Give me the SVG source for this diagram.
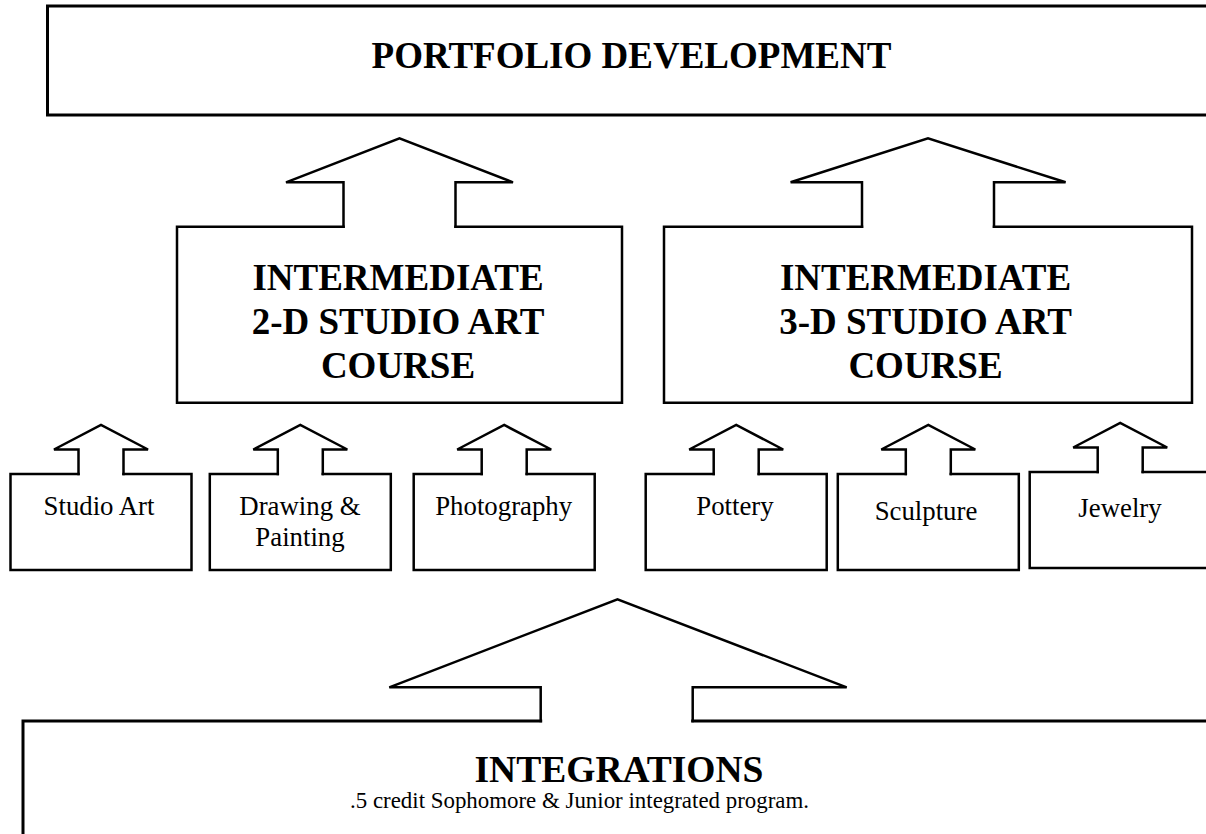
<svg xmlns="http://www.w3.org/2000/svg" width="1206" height="834" viewBox="0 0 1206 834">
  <style>
    .box { fill: none; stroke: #000; stroke-width: 2.5; stroke-linecap: square; stroke-linejoin: miter; }
    .wide { stroke-width: 3; }
    .arrow { fill: none; stroke: #000; stroke-width: 2.5; stroke-linecap: square; stroke-linejoin: miter; }
    .head { font-family: "Liberation Serif", "Times New Roman", serif; font-weight: bold; fill: #000; text-anchor: middle; }
    .big { font-size: 37px; }
    .label { font-family: "Liberation Serif", "Times New Roman", serif; font-size: 26.8px; fill: #000; text-anchor: middle; }
    .note { font-family: "Liberation Serif", "Times New Roman", serif; font-size: 22.9px; fill: #000; }
  </style>
  <rect width="1206" height="834" fill="#fff"/>

  <!-- top level -->
  <g id="portfolio">
    <rect class="box wide" x="47.5" y="6" width="1200" height="109"/>
    <text class="head big" x="631.5" y="68">PORTFOLIO DEVELOPMENT</text>
  </g>

  <!-- intermediate courses -->
  <g id="intermediate-2d">
    <path class="box" d="M343.5,226.7 H177 V402.7 H622 V226.7 H455.5"/>
    <text class="head big" x="398" y="290">INTERMEDIATE</text>
    <text class="head big" x="398" y="334">2-D STUDIO ART</text>
    <text class="head big" x="398" y="378">COURSE</text>
  </g>
  <g id="intermediate-3d">
    <path class="box" d="M862,226.7 H664 V402.7 H1192 V226.7 H994"/>
    <text class="head big" x="925.5" y="290">INTERMEDIATE</text>
    <text class="head big" x="925.5" y="334">3-D STUDIO ART</text>
    <text class="head big" x="925.5" y="378">COURSE</text>
  </g>

  <!-- elective courses -->
  <g id="studio-art">
    <path class="box" d="M78.5,474 H10.5 V570 H191.5 V474 H123.5"/>
    <text class="label" x="99" y="515">Studio Art</text>
  </g>
  <g id="drawing-painting">
    <path class="box" d="M277.8,474 H209.8 V570 H390.8 V474 H322.8"/>
    <text class="label" x="300" y="515">Drawing &amp;</text>
    <text class="label" x="300" y="546">Painting</text>
  </g>
  <g id="photography">
    <path class="box" d="M481.7,474 H413.7 V570 H594.7 V474 H526.7"/>
    <text class="label" x="503.7" y="515">Photography</text>
  </g>
  <g id="pottery">
    <path class="box" d="M713.7,474 H645.7 V570 H826.7 V474 H758.7"/>
    <text class="label" x="735" y="515">Pottery</text>
  </g>
  <g id="sculpture">
    <path class="box" d="M905.8,474 H837.8 V570 H1018.8 V474 H950.8"/>
    <text class="label" x="926" y="520">Sculpture</text>
  </g>
  <g id="jewelry">
    <path class="box" d="M1097.7,472 H1029.7 V568 H1215"/>
    <path class="box" d="M1142.7,472 H1215"/>
    <text class="label" x="1120" y="516.7">Jewelry</text>
  </g>

  <!-- base program -->
  <g id="integrations">
    <path class="box wide" d="M540.7,721 H23 V840"/>
    <path class="box wide" d="M692.7,721 H1215"/>
    <text class="head" style="font-size:37.5px" x="619" y="782">INTEGRATIONS</text>
    <text class="note" x="350" y="808">.5 credit Sophomore &amp; Junior integrated program.</text>
  </g>

  <!-- upward block arrows -->
  <g id="connectors">
    <path class="arrow" d="M343.5,226.7 V182.3 H286 L399.5,138.3 L513,182.3 H455.5 V226.7"/>
    <path class="arrow" d="M862,226.7 V182.3 H790.6 L928,138.3 L1065.6,182.3 H994 V226.7"/>
    <path class="arrow" d="M78.5,474 V449.5 H54 L101,425 L148,449.5 H123.5 V474"/>
    <path class="arrow" d="M277.8,474 V449.5 H253.3 L300.3,425 L347.3,449.5 H322.8 V474"/>
    <path class="arrow" d="M481.7,474 V449.5 H457.2 L504.2,425 L551.2,449.5 H526.7 V474"/>
    <path class="arrow" d="M713.7,474 V449.5 H689.2 L736.2,425 L783.2,449.5 H758.7 V474"/>
    <path class="arrow" d="M905.8,474 V449.5 H881.3 L928.3,425 L975.3,449.5 H950.8 V474"/>
    <path class="arrow" d="M1097.7,472 V447.5 H1073.2 L1120.2,423 L1167.2,447.5 H1142.7 V472"/>
    <path class="arrow" d="M540.7,721 V687.3 H389.3 L617.5,599.3 L846.7,687.3 H692.7 V721"/>
  </g>
</svg>
